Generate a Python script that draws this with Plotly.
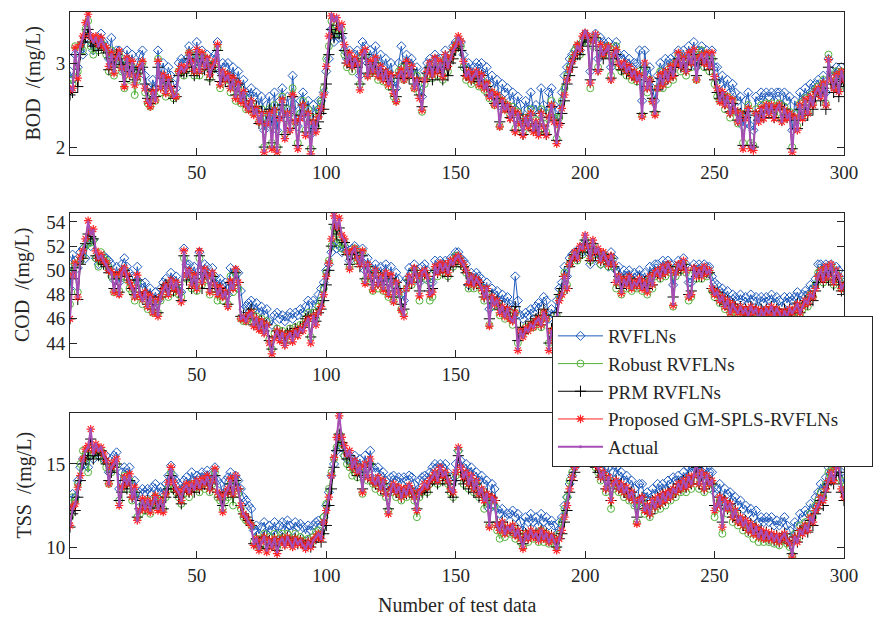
import plotly.graph_objects as go

# ---------------- DATA ----------------
bod_actual = [2.70,2.68,3.15,2.85,3.20,3.30,3.45,3.55,3.30,3.25,
3.30,3.20,3.28,3.22,3.15,2.95,3.10,2.90,3.05,3.12,
2.95,2.75,3.05,2.85,3.00,2.75,2.85,2.95,3.00,2.70,
2.55,2.50,2.65,2.55,3.00,2.70,2.85,2.65,2.80,2.70,
2.60,2.62,2.88,2.95,2.90,2.95,3.10,3.00,2.90,3.15,
2.90,3.10,2.95,3.05,2.85,2.95,3.00,3.20,2.75,2.90,
2.80,2.85,2.70,2.80,2.60,2.75,2.55,2.65,2.50,2.45,
2.55,2.40,2.45,2.30,2.40,1.95,2.30,2.40,2.00,2.45,
1.95,2.35,2.55,2.10,2.40,2.20,2.60,2.30,2.00,2.35,
2.50,2.15,2.40,1.92,2.30,2.20,2.35,2.45,2.60,2.95,
3.30,3.58,3.50,3.55,3.40,3.45,3.20,3.00,3.10,2.95,
3.05,3.00,2.70,3.10,3.15,2.85,3.00,2.90,3.05,2.85,
2.95,2.80,2.90,2.75,2.85,2.65,2.55,2.85,2.90,2.80,
3.00,2.85,2.95,2.70,2.80,2.60,2.45,2.80,2.90,3.00,
2.85,3.05,2.90,3.00,2.85,3.10,2.95,3.05,3.15,3.20,
3.30,3.25,3.00,2.85,2.90,2.80,2.85,2.90,2.75,2.85,
2.70,2.75,2.60,2.65,2.50,2.60,2.25,2.55,2.45,2.50,
2.35,2.45,2.20,2.40,2.30,2.15,2.35,2.25,2.40,2.20,
2.30,2.15,2.40,2.25,2.15,2.35,2.50,2.30,2.05,2.25,
2.45,2.60,2.80,2.90,3.00,3.10,3.20,3.15,3.30,3.38,
3.30,2.75,3.25,3.35,2.90,3.20,3.10,3.15,3.20,2.80,
3.10,3.15,3.00,2.95,3.00,2.90,2.95,2.85,2.90,2.80,
2.85,2.36,3.00,2.70,2.80,2.55,2.40,2.70,2.85,2.75,
2.90,2.80,2.95,2.85,3.00,3.10,2.95,3.05,2.90,3.10,
3.00,3.15,2.80,3.05,3.10,3.00,3.10,2.95,3.10,2.85,
2.70,2.55,2.65,2.50,2.60,2.40,2.55,2.45,2.30,2.40,
2.00,2.35,2.45,2.00,1.98,2.40,2.30,2.45,2.35,2.50,
2.40,2.50,2.35,2.45,2.50,2.30,2.45,2.35,2.40,1.95,
2.35,2.20,2.50,2.35,2.55,2.40,2.60,2.50,2.65,2.70,
2.60,2.75,2.50,3.05,2.80,2.70,2.85,2.65,2.90,2.80]

bod_rvfl = [2.90,2.80,3.10,2.95,3.15,3.10,3.30,3.35,3.25,3.15,
3.25,3.30,3.35,3.25,3.20,3.05,3.30,3.00,3.15,3.15,
3.05,2.90,3.15,3.00,3.10,2.90,3.00,3.10,3.15,2.85,
2.70,2.65,2.80,2.70,3.15,2.85,3.00,2.80,2.95,2.85,
2.75,2.70,3.00,3.05,3.00,3.05,3.20,3.10,3.00,3.25,
3.00,3.15,3.05,3.10,2.95,3.05,3.10,3.25,2.90,3.00,
2.95,3.00,2.85,2.95,2.75,2.90,2.70,2.80,2.65,2.60,
2.70,2.60,2.65,2.50,2.60,2.20,2.50,2.60,2.25,2.65,
2.20,2.55,2.70,2.35,2.60,2.40,2.85,2.50,2.25,2.55,
2.65,2.35,2.55,2.15,2.50,2.40,2.55,2.55,2.65,2.90,
3.05,3.40,3.25,3.35,3.30,3.30,3.15,3.05,3.15,3.00,
3.10,3.15,2.85,3.25,3.20,3.00,3.15,3.05,3.20,3.00,
3.10,2.95,3.05,2.90,3.00,2.80,2.70,3.00,3.20,2.95,
3.10,3.00,3.05,2.85,2.95,2.75,2.60,2.90,3.00,3.05,
3.00,3.10,3.05,3.05,2.95,3.15,3.05,3.10,3.20,3.25,
3.25,3.25,3.10,2.95,3.00,2.90,2.95,3.00,2.90,3.00,
2.85,2.95,2.75,2.85,2.70,2.80,2.50,2.75,2.65,2.70,
2.55,2.65,2.45,2.60,2.50,2.35,2.55,2.45,2.65,2.45,
2.50,2.40,2.70,2.50,2.40,2.65,2.70,2.50,2.30,2.45,
2.65,2.85,2.95,3.05,3.10,3.15,3.20,3.15,3.25,3.35,
3.30,2.90,3.30,3.35,3.05,3.30,3.25,3.20,3.25,2.95,
3.20,3.25,3.10,3.05,3.10,3.00,3.05,2.95,3.00,3.00,
3.15,2.55,3.15,2.85,2.95,2.70,2.55,2.85,3.00,2.90,
3.05,2.95,3.05,3.00,3.10,3.15,3.05,3.15,3.05,3.20,
3.10,3.25,2.95,3.15,3.20,3.10,3.15,3.05,3.15,2.95,
2.95,2.75,2.85,2.70,2.80,2.65,2.75,2.65,2.55,2.60,
2.25,2.55,2.65,2.25,2.20,2.60,2.55,2.65,2.55,2.65,
2.60,2.65,2.55,2.65,2.65,2.50,2.65,2.55,2.60,2.20,
2.55,2.40,2.65,2.55,2.70,2.60,2.75,2.65,2.75,2.80,
2.70,2.85,2.65,3.05,2.90,2.85,2.95,2.80,2.95,2.85]

bod_robust = [2.80,2.75,3.20,2.90,3.20,3.15,3.40,3.50,3.20,3.10,
3.25,3.15,3.25,3.20,3.10,2.90,3.15,2.85,3.00,3.10,
2.90,2.70,3.00,2.80,2.95,2.62,2.80,2.90,3.00,2.65,
2.52,2.48,2.60,2.55,3.05,2.65,2.80,2.60,2.80,2.65,
2.58,2.60,2.90,2.90,2.85,2.92,3.12,3.00,2.85,3.10,
2.85,3.10,2.95,3.00,2.82,2.92,3.00,3.18,2.70,2.85,
2.80,2.80,2.65,2.75,2.55,2.70,2.52,2.60,2.45,2.45,
2.50,2.40,2.45,2.30,2.45,2.00,2.35,2.45,2.05,2.50,
2.00,2.40,2.60,2.15,2.45,2.25,2.70,2.35,2.05,2.40,
2.55,2.20,2.45,1.98,2.35,2.25,2.45,2.55,2.70,3.05,
3.20,3.50,3.35,3.45,3.35,3.40,3.10,2.95,3.05,2.90,
3.00,3.00,2.75,3.10,3.10,2.85,2.95,2.90,3.00,2.80,
2.90,2.78,2.85,2.72,2.80,2.60,2.55,2.90,2.95,2.80,
2.95,2.85,2.90,2.70,2.85,2.65,2.42,2.75,2.85,2.95,
2.82,3.00,2.85,2.95,2.80,3.05,2.90,3.05,3.15,3.20,
3.25,3.20,2.95,2.80,2.85,2.75,2.80,2.85,2.72,2.80,
2.68,2.75,2.58,2.65,2.50,2.60,2.25,2.55,2.45,2.50,
2.38,2.48,2.22,2.42,2.30,2.18,2.35,2.28,2.45,2.22,
2.32,2.18,2.45,2.28,2.18,2.40,2.55,2.35,2.10,2.35,
2.55,2.70,2.85,2.95,3.05,3.15,3.20,3.10,3.25,3.30,
3.25,2.70,3.20,3.30,2.95,3.15,3.10,3.10,3.20,2.85,
3.05,3.20,2.95,2.90,2.95,2.85,2.90,2.80,2.85,2.78,
2.90,2.38,2.95,2.65,2.80,2.55,2.40,2.70,2.90,2.70,
2.85,2.75,2.95,2.80,3.00,3.10,2.90,3.00,2.85,3.05,
2.95,3.10,2.80,3.10,3.15,2.95,3.10,2.90,3.05,2.75,
2.60,2.55,2.60,2.45,2.60,2.35,2.55,2.42,2.28,2.40,
2.05,2.40,2.50,2.05,2.02,2.45,2.35,2.50,2.40,2.52,
2.45,2.52,2.40,2.48,2.52,2.35,2.48,2.40,2.42,2.00,
2.40,2.25,2.52,2.38,2.58,2.42,2.62,2.52,2.68,2.72,
2.65,2.80,2.52,3.10,2.85,2.75,2.90,2.70,2.90,2.85]

bod_prm = [2.62,2.65,3.10,2.72,3.10,3.25,3.30,3.40,3.25,3.20,
3.25,3.15,3.22,3.18,3.12,2.92,3.05,2.95,3.10,3.05,
2.98,2.78,3.00,2.90,2.95,2.80,2.88,2.92,2.95,2.75,
2.58,2.52,2.68,2.60,2.95,2.72,2.82,2.70,2.78,2.72,
2.58,2.60,2.85,2.90,2.88,2.90,3.05,2.95,2.85,3.10,
2.88,3.05,2.92,3.00,2.80,2.90,2.95,3.15,2.78,2.85,
2.78,2.85,2.72,2.82,2.62,2.75,2.58,2.66,2.52,2.48,
2.55,2.42,2.48,2.28,2.42,2.00,2.30,2.45,2.05,2.45,
2.00,2.35,2.50,2.15,2.40,2.22,2.60,2.32,2.02,2.38,
2.50,2.18,2.40,1.98,2.32,2.22,2.30,2.40,2.45,2.75,
3.10,3.40,3.30,3.45,3.35,3.35,3.15,3.00,3.05,2.95,
3.02,2.95,2.75,3.05,3.10,2.88,2.98,2.90,3.00,2.88,
2.92,2.82,2.88,2.78,2.85,2.68,2.60,2.82,2.88,2.82,
3.00,2.82,2.92,2.75,2.82,2.62,2.48,2.78,2.88,2.95,
2.80,2.95,2.88,2.95,2.80,3.00,2.85,3.00,3.05,3.15,
3.20,3.15,2.95,2.85,2.88,2.80,2.82,2.88,2.78,2.85,
2.72,2.72,2.62,2.62,2.52,2.58,2.30,2.52,2.48,2.48,
2.35,2.42,2.20,2.38,2.30,2.15,2.32,2.25,2.38,2.20,
2.28,2.18,2.40,2.25,2.15,2.35,2.48,2.32,2.08,2.28,
2.40,2.55,2.75,2.85,2.95,3.05,3.10,3.10,3.20,3.30,
3.25,2.80,3.20,3.30,2.92,3.15,3.05,3.12,3.15,2.82,
3.05,3.10,2.98,2.92,2.98,2.88,2.92,2.85,2.88,2.80,
2.85,2.40,2.95,2.72,2.78,2.58,2.42,2.68,2.82,2.75,
2.88,2.82,2.92,2.85,2.95,3.05,2.95,3.00,2.92,3.05,
2.98,3.10,2.85,3.00,3.05,2.98,3.05,2.92,3.05,2.80,
2.65,2.58,2.62,2.52,2.58,2.42,2.52,2.45,2.32,2.40,
2.02,2.35,2.42,2.02,2.00,2.38,2.32,2.42,2.35,2.48,
2.40,2.48,2.35,2.45,2.48,2.32,2.45,2.35,2.38,1.98,
2.32,2.22,2.45,2.32,2.50,2.38,2.55,2.45,2.60,2.65,
2.55,2.70,2.45,2.95,2.75,2.65,2.78,2.60,2.80,2.72]

bod_proposed = [2.68,2.70,3.18,2.82,3.22,3.32,3.48,3.58,3.32,3.28,
3.32,3.22,3.30,3.20,3.18,2.96,3.12,2.88,3.06,3.14,
2.94,2.72,3.06,2.86,3.02,2.74,2.84,2.96,3.02,2.70,
2.54,2.48,2.66,2.56,3.02,2.70,2.86,2.64,2.82,2.70,
2.62,2.60,2.90,2.96,2.92,2.96,3.12,3.02,2.90,3.16,
2.90,3.12,2.96,3.06,2.86,2.96,3.02,3.22,2.74,2.90,
2.80,2.86,2.70,2.82,2.58,2.76,2.54,2.66,2.50,2.44,
2.55,2.38,2.46,2.30,2.40,1.94,2.28,2.40,1.98,2.44,
1.94,2.34,2.56,2.10,2.40,2.20,2.62,2.30,1.98,2.34,
2.50,2.14,2.40,1.92,2.30,2.18,2.36,2.46,2.62,2.96,
3.32,3.56,3.52,3.54,3.42,3.46,3.22,3.00,3.12,2.96,
3.06,3.00,2.68,3.12,3.16,2.84,3.02,2.90,3.06,2.84,
2.96,2.80,2.90,2.74,2.86,2.64,2.54,2.86,2.92,2.80,
3.02,2.86,2.96,2.70,2.80,2.58,2.44,2.80,2.90,3.00,
2.86,3.06,2.90,3.02,2.84,3.10,2.96,3.06,3.16,3.22,
3.32,3.26,3.02,2.84,2.90,2.80,2.86,2.90,2.74,2.86,
2.70,2.76,2.60,2.66,2.50,2.62,2.24,2.56,2.44,2.50,
2.34,2.44,2.18,2.40,2.28,2.14,2.34,2.24,2.40,2.18,
2.30,2.14,2.40,2.24,2.14,2.36,2.50,2.30,2.04,2.26,
2.46,2.62,2.80,2.92,3.02,3.10,3.22,3.16,3.32,3.36,
3.32,2.76,3.26,3.34,2.90,3.22,3.10,3.16,3.20,2.80,
3.10,3.16,3.00,2.96,3.00,2.90,2.96,2.84,2.90,2.80,
2.86,2.36,3.00,2.70,2.80,2.54,2.38,2.70,2.86,2.74,
2.90,2.80,2.96,2.84,3.00,3.12,2.96,3.06,2.90,3.12,
3.00,3.16,2.80,3.06,3.10,3.00,3.12,2.96,3.12,2.84,
2.70,2.54,2.66,2.50,2.60,2.40,2.56,2.44,2.30,2.40,
1.98,2.34,2.46,1.98,1.96,2.40,2.30,2.46,2.34,2.50,
2.40,2.50,2.34,2.46,2.50,2.30,2.44,2.34,2.40,1.94,
2.36,2.20,2.50,2.34,2.56,2.40,2.60,2.50,2.66,2.70,
2.60,2.76,2.50,3.04,2.80,2.70,2.86,2.66,2.90,2.80]

cod_actual = [46.0,49.5,50.5,47.8,51.0,51.5,52.5,54.0,53.0,53.3,
51.5,51.0,51.2,50.8,50.5,50.0,49.8,48.3,49.5,48.0,
49.8,50.2,49.5,49.0,48.5,47.8,49.5,48.0,47.5,48.2,
47.0,47.8,46.5,47.5,46.3,47.8,48.3,48.8,48.0,49.2,
48.5,49.0,48.2,47.5,51.5,49.5,50.0,48.8,49.5,48.5,
51.5,49.0,50.0,49.5,48.3,49.8,48.8,48.0,48.5,47.8,
48.2,47.0,49.0,48.5,50.0,49.0,46.0,46.2,45.8,46.3,
46.5,45.5,46.0,45.2,45.8,44.8,45.5,44.0,43.2,44.5,
45.0,44.3,44.8,43.8,44.5,44.8,44.2,45.0,44.6,45.2,
45.0,45.6,46.0,44.1,46.2,45.5,46.5,47.0,48.0,49.5,
50.5,52.5,54.7,53.5,54.2,52.8,52.5,51.5,50.2,51.5,
51.8,51.0,50.5,51.5,49.0,50.5,49.5,48.5,50.0,48.8,
49.5,48.5,49.8,48.0,49.5,47.5,49.0,48.2,46.8,46.3,
48.5,49.5,49.0,50.2,49.5,48.0,49.8,50.0,49.5,48.0,
48.2,50.3,49.8,50.5,50.0,50.5,49.8,50.8,50.5,51.0,
51.2,50.8,50.5,50.0,49.0,49.5,48.8,49.3,49.0,48.5,
47.8,48.5,45.5,47.8,47.2,47.5,46.5,47.0,46.2,46.8,
46.0,45.8,46.5,43.5,45.0,44.5,45.2,45.0,45.5,45.3,
45.8,46.0,45.5,46.5,46.0,43.5,45.0,44.2,46.0,47.5,
48.0,49.5,48.5,50.5,51.0,51.5,51.0,52.0,51.8,53.0,
52.0,51.0,52.5,51.5,51.8,50.8,51.5,51.0,50.5,51.2,
50.5,49.0,49.5,48.2,49.2,48.8,49.5,48.5,49.0,48.8,
49.3,48.5,49.0,48.3,49.5,48.8,49.8,50.0,49.5,50.3,
49.8,50.5,50.0,47.2,49.8,50.5,50.2,50.8,50.0,47.8,
48.0,50.2,49.5,50.0,49.5,50.3,49.8,50.0,48.5,48.0,
48.2,47.5,47.8,47.0,47.5,46.5,47.2,46.8,46.5,47.0,
46.5,46.8,46.2,47.0,46.5,46.8,46.0,46.7,46.3,46.8,
46.5,47.0,46.3,46.8,46.5,46.0,46.6,46.2,46.8,46.5,
46.8,47.2,46.5,47.0,47.5,47.3,48.0,47.8,48.5,49.5,
50.0,49.2,50.3,49.5,50.5,49.0,50.0,49.5,48.5,48.8]

cod_rvfl = [48.5,51.3,50.8,50.2,51.5,51.8,51.0,52.5,52.0,52.5,
51.0,50.5,51.0,51.2,51.0,50.8,50.5,49.2,50.3,49.0,
50.5,51.0,50.3,49.8,49.5,48.8,50.3,49.0,48.5,49.0,
48.0,48.5,47.5,48.2,47.5,48.5,49.0,49.3,48.8,49.8,
49.2,49.5,48.8,48.2,51.8,50.5,50.5,49.8,50.3,49.5,
51.5,50.0,50.5,50.3,49.3,50.2,49.5,48.8,49.3,48.8,
49.0,48.0,50.2,49.5,50.0,49.8,48.3,46.8,47.0,47.3,
47.5,46.8,47.3,46.5,47.0,46.3,46.8,45.8,45.5,46.3,
46.5,46.0,46.3,45.8,46.2,46.5,46.0,46.5,46.3,46.8,
46.5,47.0,47.5,46.3,47.5,47.2,48.0,48.5,49.0,50.0,
50.5,51.5,52.5,51.8,52.0,51.5,52.0,51.5,50.8,51.8,
52.0,51.5,51.2,51.8,50.0,51.0,50.3,49.5,50.5,49.8,
50.3,49.5,50.5,49.0,50.3,48.8,49.8,49.3,48.0,47.5,
49.3,50.2,49.8,50.5,50.0,49.0,50.3,50.5,50.0,49.0,
49.0,50.8,50.3,50.8,50.5,50.8,50.3,51.0,51.0,51.5,
51.5,51.0,50.8,50.5,48.8,49.8,49.3,49.8,49.5,49.3,
48.5,49.0,46.8,48.5,48.0,48.3,47.5,48.0,47.3,47.8,
47.2,47.0,49.5,47.5,46.3,46.0,46.5,46.3,46.8,46.5,
47.0,47.3,47.0,47.8,47.5,46.0,46.8,46.3,47.5,48.5,
49.0,50.3,49.5,51.0,51.3,51.5,51.0,51.8,51.5,52.3,
51.5,50.5,51.8,51.0,51.3,50.5,51.0,50.8,50.3,51.5,
51.0,50.0,50.3,49.3,50.0,49.5,50.0,49.3,49.8,49.5,
50.0,49.3,49.8,49.0,50.3,49.8,50.5,50.5,50.0,50.8,
50.3,50.8,50.5,48.8,50.3,50.8,50.5,51.0,50.5,49.0,
49.0,50.5,50.0,50.5,50.0,50.5,50.3,50.3,49.5,49.0,
48.8,48.3,48.5,47.8,48.3,47.5,48.0,47.8,47.5,48.0,
47.5,47.8,47.3,48.0,47.5,47.8,47.0,47.8,47.3,47.8,
47.5,48.0,47.3,47.8,47.5,47.0,47.8,47.3,47.8,47.5,
47.8,48.2,47.5,48.0,48.3,48.0,48.8,48.5,49.3,50.5,
50.5,50.0,50.5,50.3,50.5,49.8,50.3,50.0,49.3,49.0]

cod_robust = [47.2,50.3,50.5,48.2,50.8,51.2,52.0,52.2,52.3,52.5,
51.0,50.3,51.5,51.0,50.8,50.2,49.5,48.2,49.5,48.3,
49.5,50.0,49.2,48.5,48.2,47.5,49.0,47.8,47.2,48.0,
46.8,47.5,46.5,47.3,46.5,47.5,48.0,48.5,47.8,49.0,
48.2,48.5,48.0,47.8,51.0,49.3,49.5,48.5,49.2,48.3,
51.0,48.8,49.5,49.2,48.0,49.5,48.5,47.5,48.2,47.5,
48.0,47.2,49.5,48.2,49.8,48.5,46.0,45.8,45.8,46.0,
46.5,45.8,46.2,45.5,46.0,45.0,45.8,44.3,43.5,44.8,
45.2,44.8,45.0,44.3,44.8,45.2,44.8,45.3,45.0,45.5,
45.5,46.0,46.5,44.5,46.5,46.0,47.0,47.5,48.5,49.8,
50.8,52.0,53.5,52.3,52.5,51.8,52.2,51.5,50.3,51.5,
51.8,50.8,50.8,51.5,49.2,50.3,49.3,48.3,49.8,48.5,
49.2,48.3,49.5,47.8,49.2,47.5,48.8,48.0,46.8,46.5,
48.5,49.3,48.8,50.0,49.3,47.5,49.5,49.8,49.2,47.5,
47.8,50.0,49.5,50.3,49.8,50.2,49.5,50.5,50.3,51.2,
51.0,50.5,50.3,49.8,48.5,49.2,48.5,49.0,48.8,48.3,
47.5,48.0,45.5,47.5,47.0,47.2,46.3,46.8,46.0,46.5,
46.0,45.5,46.5,44.0,45.0,44.8,45.3,45.2,45.5,45.3,
45.8,46.0,45.3,46.5,46.0,44.0,45.0,44.5,46.3,47.8,
48.3,49.8,48.8,50.5,51.0,51.3,50.8,51.5,51.3,52.5,
51.8,50.8,52.0,51.3,51.5,50.5,51.3,50.8,50.3,51.0,
50.3,48.5,49.3,48.0,49.0,48.5,49.3,48.3,48.8,48.5,
49.0,48.3,48.8,48.0,49.3,48.5,49.5,49.8,49.3,50.0,
49.5,50.3,49.8,47.0,49.5,50.3,50.0,50.5,49.8,47.5,
47.8,50.0,49.3,49.8,49.3,50.0,49.5,49.8,48.3,47.8,
48.0,47.3,47.5,46.8,47.3,46.5,47.0,46.5,46.3,46.8,
46.3,46.5,46.0,46.8,46.3,46.5,45.8,46.5,46.0,46.5,
46.3,46.8,46.0,46.5,46.3,45.8,46.5,46.0,46.5,46.3,
46.5,47.0,46.3,46.8,47.3,47.0,48.0,47.8,48.8,49.8,
50.0,49.0,50.0,49.3,50.3,48.8,49.8,49.3,48.5,48.8]

cod_prm = [46.0,49.3,50.2,47.6,50.5,51.0,52.2,53.0,52.8,52.6,
51.2,51.0,50.8,50.5,50.3,49.8,49.8,48.5,49.3,48.2,
49.8,50.0,49.5,49.2,48.5,48.0,49.2,48.2,47.8,48.2,
47.2,47.8,46.8,47.5,46.5,47.8,48.5,48.8,48.3,49.0,
48.3,48.8,48.2,47.5,51.2,49.2,49.8,48.5,49.3,48.5,
51.2,48.5,49.8,49.5,48.5,49.5,48.8,48.2,48.5,48.0,
48.2,47.2,49.0,48.8,49.8,49.0,46.2,46.3,46.0,46.5,
46.8,45.5,46.0,45.3,45.8,45.0,45.5,44.2,43.5,44.5,
45.0,44.5,44.8,44.0,44.8,45.0,44.5,45.2,44.8,45.3,
45.3,46.0,46.2,44.5,46.3,45.8,46.5,46.8,47.5,48.8,
50.0,52.0,53.8,53.0,53.5,52.5,52.3,51.3,50.5,51.3,
51.5,51.0,50.3,51.2,49.3,50.3,49.5,48.8,49.8,49.0,
49.5,48.8,49.5,48.3,49.3,47.8,49.0,48.5,47.2,46.8,
48.5,49.2,49.0,50.0,49.5,48.3,49.5,49.8,49.5,48.3,
48.5,50.0,49.8,50.2,49.8,50.3,49.5,50.5,50.3,50.8,
51.0,50.5,50.3,49.8,48.8,49.3,48.8,49.2,49.0,48.5,
47.8,48.3,46.0,47.8,47.3,47.5,46.8,47.0,46.5,46.8,
46.2,46.0,47.0,44.2,45.3,44.8,45.3,45.2,45.8,45.5,
46.0,46.3,45.5,46.8,46.3,44.0,45.2,44.5,46.5,48.0,
48.5,49.5,48.5,50.3,50.8,51.3,51.0,51.8,51.5,52.5,
51.8,50.8,52.2,51.3,51.5,50.8,51.3,51.0,50.5,51.0,
50.3,49.0,49.5,48.5,49.2,48.8,49.3,48.8,49.0,48.8,
49.3,48.8,49.0,48.5,49.5,48.8,49.8,49.8,49.5,50.0,
49.8,50.3,50.0,47.8,49.8,50.3,50.0,50.5,50.0,48.0,
48.3,50.0,49.5,49.8,49.5,50.0,49.8,49.8,48.5,48.2,
48.2,47.5,47.8,47.2,47.5,46.8,47.2,47.0,46.8,47.0,
46.5,46.8,46.3,47.0,46.5,46.8,46.2,46.8,46.5,46.8,
46.5,47.0,46.5,46.8,46.5,46.2,46.8,46.3,46.8,46.5,
46.8,47.3,46.5,47.0,47.5,47.2,47.8,47.5,48.3,49.0,
49.5,49.0,49.8,49.2,50.0,48.8,49.5,49.0,48.3,48.5]

cod_proposed = [46.0,49.6,50.6,47.8,51.1,51.6,52.6,54.1,53.2,53.4,
51.6,51.0,51.3,50.8,50.6,50.0,49.9,48.2,49.6,48.0,
49.9,50.2,49.6,49.0,48.6,47.8,49.6,48.0,47.6,48.2,
47.0,47.9,46.5,47.5,46.2,47.8,48.4,48.8,48.0,49.2,
48.5,49.0,48.2,47.4,51.6,49.6,50.0,48.8,49.6,48.5,
51.6,49.0,50.1,49.5,48.2,49.8,48.8,48.0,48.6,47.8,
48.2,47.0,49.1,48.5,50.1,49.0,46.0,46.1,45.8,46.3,
46.5,45.4,46.0,45.1,45.8,44.8,45.5,44.0,43.1,44.4,
45.0,44.2,44.8,43.8,44.5,44.8,44.1,45.0,44.6,45.2,
45.0,45.6,46.0,44.0,46.2,45.5,46.5,47.0,48.0,49.5,
50.6,52.6,54.5,53.6,54.3,52.9,52.6,51.5,50.1,51.6,
51.8,51.0,50.5,51.6,48.9,50.5,49.5,48.4,50.0,48.8,
49.5,48.4,49.8,48.0,49.6,47.4,49.0,48.2,46.7,46.2,
48.5,49.5,49.0,50.2,49.5,47.9,49.8,50.0,49.5,48.0,
48.2,50.3,49.8,50.6,50.0,50.5,49.8,50.8,50.6,51.0,
51.2,50.8,50.5,50.0,48.9,49.5,48.8,49.3,49.0,48.5,
47.8,48.5,45.4,47.8,47.2,47.5,46.5,47.0,46.2,46.8,
46.0,45.8,46.5,43.4,45.0,44.5,45.2,45.0,45.5,45.3,
45.8,46.0,45.5,46.5,46.0,43.4,45.0,44.2,46.0,47.5,
48.0,49.5,48.5,50.5,51.0,51.5,51.0,52.0,51.8,52.9,
52.0,51.0,52.5,51.5,51.8,50.8,51.5,51.0,50.5,51.2,
50.5,49.0,49.5,48.1,49.2,48.8,49.5,48.5,49.0,48.8,
49.3,48.5,49.0,48.2,49.5,48.8,49.8,50.0,49.5,50.3,
49.8,50.5,50.0,47.1,49.8,50.5,50.2,50.8,50.0,47.8,
48.0,50.2,49.5,50.0,49.5,50.3,49.8,50.0,48.5,48.0,
48.2,47.5,47.8,47.0,47.5,46.5,47.2,46.8,46.5,47.0,
46.5,46.8,46.2,47.0,46.5,46.8,46.0,46.7,46.3,46.8,
46.5,47.0,46.3,46.8,46.5,46.0,46.6,46.2,46.8,46.5,
46.8,47.2,46.5,47.0,47.5,47.3,48.0,47.8,48.5,49.5,
50.0,49.2,50.3,49.5,50.5,49.0,50.0,49.5,48.5,48.8]

tss_actual = [11.3,12.3,12.6,13.5,14.2,15.2,15.8,16.0,17.1,15.6,
16.2,15.8,16.0,15.5,15.2,13.8,14.8,15.0,15.3,12.5,
13.5,14.2,13.8,14.3,13.0,13.5,11.6,12.2,12.8,12.3,
12.8,12.2,12.7,13.0,12.3,12.8,12.2,13.2,13.8,14.7,
13.8,13.5,13.3,12.8,13.5,13.7,13.3,13.8,13.5,14.0,
13.6,14.0,13.8,14.2,13.5,14.0,14.6,13.3,13.0,12.2,
13.2,13.5,14.0,13.2,14.3,13.5,12.5,12.0,11.8,11.5,
11.3,10.2,10.5,9.9,10.3,10.6,9.8,10.4,10.0,10.5,
9.7,10.3,10.5,10.1,10.6,10.3,10.0,10.5,10.2,10.4,
10.1,9.9,10.3,10.0,10.4,10.6,10.8,10.5,11.5,12.2,
13.0,14.2,15.3,16.5,18.0,16.5,16.0,15.5,15.8,14.8,
15.2,14.5,14.8,13.4,15.0,14.2,15.3,14.0,13.8,14.2,
13.5,14.0,13.2,12.1,13.5,13.8,13.3,13.6,13.0,13.5,
13.2,13.7,13.4,13.0,12.2,13.3,13.5,13.8,13.6,14.0,
14.2,14.5,14.0,14.8,14.3,14.5,14.0,13.5,13.3,14.5,
16.0,14.8,14.2,14.5,13.8,14.3,13.5,14.0,13.2,13.5,
12.8,13.2,11.3,13.0,12.8,11.3,11.0,11.5,10.8,11.2,
11.0,11.3,10.7,11.0,10.5,10.0,10.8,10.5,11.0,10.6,
10.8,10.4,11.0,10.5,10.8,10.3,10.7,10.4,9.9,10.5,
11.0,11.8,12.5,13.5,14.2,14.8,15.5,16.0,15.5,16.2,
15.8,16.5,15.5,15.0,14.8,14.2,14.5,13.5,14.2,12.8,
13.8,14.0,13.5,13.8,13.3,13.6,13.0,13.3,12.8,11.5,
12.8,13.0,12.2,12.5,12.0,12.8,12.4,13.0,12.6,13.2,
12.8,13.3,13.0,13.5,13.3,13.8,13.5,14.0,13.6,14.2,
13.8,14.3,15.2,13.8,14.5,13.5,14.3,13.8,14.0,12.2,
12.5,13.0,11.2,12.8,12.3,12.6,11.8,12.2,11.5,11.8,
11.3,11.6,11.0,11.4,10.8,11.2,10.6,11.0,10.5,10.9,
10.5,10.8,10.4,10.7,10.3,10.6,10.8,10.4,10.2,9.5,
10.6,10.3,11.0,10.8,11.3,11.0,11.8,11.5,12.2,12.5,
13.0,12.8,13.5,14.0,14.5,14.0,14.8,15.0,13.5,13.0]

tss_rvfl = [12.2,13.2,13.0,14.0,14.8,15.3,15.0,14.8,15.5,15.3,
16.0,15.8,15.5,15.3,15.5,14.5,15.3,15.5,15.7,13.5,
14.5,14.8,14.3,14.8,13.8,14.0,12.8,13.3,13.5,13.3,
13.5,13.3,13.6,13.8,13.3,13.6,13.2,13.8,14.3,14.9,
14.3,14.0,13.8,13.5,14.0,14.2,13.8,14.5,14.0,14.3,
14.2,14.5,14.2,14.6,14.0,14.5,14.8,14.0,13.8,13.2,
14.0,14.2,14.5,13.8,14.3,14.0,13.5,13.0,12.8,12.5,
12.3,11.0,11.3,10.8,11.2,11.5,10.8,11.3,11.0,11.5,
10.8,11.3,11.5,11.0,11.6,11.3,11.0,11.5,11.2,11.4,
11.2,10.8,11.3,11.0,11.3,11.5,11.6,11.3,11.8,12.5,
13.3,14.3,15.0,15.8,16.5,16.0,15.5,15.3,15.5,15.0,
15.5,15.0,15.3,14.3,15.5,14.8,15.8,14.8,14.5,14.8,
14.3,14.5,14.0,13.3,14.2,14.3,14.0,14.2,13.8,14.2,
14.0,14.3,14.2,13.8,13.3,14.0,14.2,14.3,14.2,14.5,
14.8,15.0,14.8,15.0,14.8,15.0,14.5,14.2,14.0,15.0,
15.8,15.2,14.8,15.0,14.5,14.8,14.3,14.5,14.0,14.3,
13.8,14.0,12.3,13.8,13.5,12.3,12.0,12.3,11.8,12.0,
12.0,12.2,11.8,12.0,11.5,11.0,11.8,11.5,12.0,11.5,
11.8,11.3,12.0,11.5,11.8,11.3,11.6,11.3,10.8,11.5,
11.8,12.5,13.0,13.8,14.3,14.8,15.3,15.5,15.3,15.8,
15.5,16.0,15.3,15.2,15.0,14.8,15.0,14.3,14.8,13.8,
14.5,14.8,14.3,14.5,14.0,14.3,13.8,14.0,13.5,12.5,
13.8,13.8,13.0,13.3,12.8,13.5,13.2,13.8,13.3,13.8,
13.5,14.0,13.8,14.2,14.0,14.3,14.0,14.5,14.2,14.8,
14.5,14.8,15.3,14.5,15.0,14.3,14.8,14.5,14.5,13.3,
13.5,13.8,12.5,13.5,13.2,13.3,12.8,13.0,12.5,12.8,
12.3,12.5,12.0,12.3,11.8,12.2,11.5,11.8,11.5,11.8,
11.5,11.8,11.3,11.6,11.3,11.5,11.8,11.3,11.0,10.5,
11.5,11.3,12.0,11.8,12.2,12.0,12.6,12.3,13.0,13.3,
13.8,13.5,14.2,14.8,15.3,15.0,15.5,15.8,14.5,13.8]

tss_robust = [11.8,13.0,12.8,13.8,15.0,15.8,15.5,14.5,15.8,15.6,
15.8,15.5,15.8,15.2,14.8,13.8,14.5,14.8,15.0,12.8,
13.5,14.3,13.5,14.0,12.8,13.2,11.8,12.0,12.5,12.2,
12.8,12.0,12.5,13.0,12.5,12.8,12.3,13.0,13.5,14.5,
13.5,13.3,13.0,12.6,13.2,13.5,13.0,13.8,13.5,13.8,
13.3,13.8,13.5,14.0,13.3,13.8,14.5,13.0,12.8,12.3,
12.8,13.0,13.8,12.5,14.0,13.2,12.3,11.8,11.6,11.5,
11.3,10.3,10.5,10.0,10.5,10.8,10.0,10.6,10.2,10.8,
10.0,10.5,10.8,10.3,10.8,10.5,10.3,10.8,10.4,10.6,
10.4,10.1,10.5,10.2,10.6,10.9,11.0,10.8,11.8,12.6,
13.5,14.5,15.3,16.0,16.8,16.2,15.5,15.0,14.8,14.3,
14.8,14.2,14.5,13.2,14.8,14.0,15.0,13.8,13.5,14.0,
13.3,13.8,13.0,12.2,13.3,13.5,13.0,13.3,12.8,13.3,
13.0,13.5,13.2,12.8,11.8,13.0,13.3,13.5,13.3,13.8,
14.0,14.3,13.8,14.5,14.0,14.3,13.8,13.3,13.0,14.3,
15.8,14.5,13.8,14.3,13.5,14.0,13.3,13.8,13.0,13.3,
12.3,12.8,11.3,12.8,12.5,11.0,10.5,11.3,10.6,11.0,
10.8,11.2,10.5,10.8,10.3,10.0,10.8,10.3,10.8,10.5,
10.8,10.3,11.0,10.3,10.8,10.2,10.6,10.2,10.0,10.8,
11.5,12.3,13.0,14.0,14.5,15.0,15.5,15.8,15.3,16.0,
15.5,16.2,15.3,14.8,14.5,14.0,14.3,13.3,14.0,12.3,
13.5,13.8,13.3,13.5,13.0,13.3,12.8,13.0,12.5,11.5,
12.5,12.8,12.0,12.3,11.8,12.5,12.2,12.8,12.3,13.0,
12.5,13.0,12.8,13.3,13.0,13.5,13.3,13.8,13.3,14.0,
13.5,14.0,15.0,13.5,14.3,13.3,14.0,13.5,13.8,11.8,
12.3,12.8,10.8,12.5,12.0,12.3,11.5,12.0,11.3,11.5,
11.0,11.3,10.8,11.2,10.5,11.0,10.3,10.8,10.3,10.6,
10.3,10.6,10.2,10.5,10.1,10.4,10.6,10.2,10.0,9.5,
10.8,10.5,11.3,11.0,11.5,11.3,12.0,11.8,12.5,12.8,
13.3,13.0,13.8,14.5,15.0,14.5,15.3,15.5,14.0,13.3]

tss_prm = [11.2,12.0,12.2,13.0,14.0,15.0,15.3,15.5,16.5,15.3,
15.8,15.5,15.8,15.3,15.0,14.0,14.5,14.8,15.0,12.8,
13.3,14.0,13.5,14.0,13.0,13.3,11.8,12.3,12.8,12.3,
12.8,12.3,12.7,12.8,12.4,12.7,12.3,13.0,13.5,14.3,
13.5,13.3,13.0,12.6,13.3,13.5,13.3,13.5,13.3,13.8,
13.5,13.8,13.8,14.0,13.5,13.8,14.3,13.3,13.0,12.5,
13.2,13.3,13.8,13.0,14.0,13.5,12.5,12.0,11.8,11.6,
11.3,10.2,10.5,10.0,10.3,10.6,9.9,10.4,10.1,10.5,
9.8,10.3,10.5,10.2,10.6,10.3,10.1,10.5,10.2,10.4,
10.2,10.0,10.3,10.0,10.3,10.5,10.6,10.3,10.8,11.3,
12.5,13.5,14.8,15.8,16.8,16.3,15.8,15.3,15.5,14.8,
15.0,14.3,14.5,13.5,14.8,14.2,15.0,14.0,13.8,14.0,
13.5,13.8,13.2,12.3,13.5,13.6,13.3,13.5,13.0,13.4,
13.2,13.5,13.3,13.0,12.3,13.2,13.3,13.5,13.3,13.8,
14.0,14.2,13.8,14.5,14.0,14.3,13.8,13.3,13.0,14.0,
15.5,14.5,13.8,14.3,13.5,14.0,13.3,13.8,13.0,13.3,
12.8,13.2,11.5,13.0,12.8,11.5,11.2,11.5,11.0,11.2,
11.0,11.3,10.8,11.0,10.6,10.2,10.8,10.6,11.0,10.7,
10.8,10.5,11.0,10.6,10.8,10.4,10.7,10.5,10.0,10.5,
10.8,11.5,12.2,13.3,14.0,14.5,15.2,15.8,15.3,16.0,
15.5,16.2,15.3,14.8,14.5,14.2,14.3,13.5,14.0,12.8,
13.8,14.0,13.5,13.8,13.3,13.5,13.0,13.3,12.8,11.8,
12.8,13.0,12.3,12.5,12.0,12.8,12.4,13.0,12.6,13.2,
12.8,13.3,13.0,13.5,13.3,13.8,13.5,14.0,13.6,14.2,
13.8,14.2,14.8,13.8,14.3,13.5,14.2,13.8,13.8,12.5,
12.5,13.0,11.5,12.8,12.3,12.6,11.8,12.2,11.6,11.8,
11.3,11.6,11.0,11.4,10.9,11.2,10.7,11.0,10.6,10.9,
10.5,10.8,10.4,10.7,10.3,10.6,10.8,10.4,10.2,9.6,
10.6,10.3,11.0,10.8,11.2,10.9,11.6,11.3,12.0,12.3,
12.8,12.5,13.3,13.8,14.0,13.8,14.3,14.5,13.3,12.8]

tss_proposed = [11.3,12.4,12.6,13.6,14.3,15.3,15.9,16.1,17.1,15.8,
16.2,15.9,16.0,15.6,15.2,13.8,14.8,15.1,15.3,12.5,
13.6,14.2,13.8,14.4,13.0,13.6,11.6,12.2,12.9,12.3,
12.8,12.1,12.7,13.1,12.2,12.8,12.1,13.2,13.9,14.8,
13.9,13.5,13.3,12.8,13.5,13.8,13.3,13.8,13.6,14.0,
13.6,14.1,13.8,14.3,13.5,14.0,14.7,13.3,13.0,12.1,
13.2,13.5,14.1,13.2,14.3,13.5,12.5,12.0,11.8,11.5,
11.3,10.1,10.5,9.8,10.3,10.6,9.7,10.4,10.0,10.5,
9.6,10.3,10.5,10.1,10.6,10.3,10.0,10.5,10.2,10.4,
10.1,9.9,10.3,10.0,10.4,10.6,10.8,10.5,11.5,12.2,
13.0,14.3,15.4,16.6,17.9,16.6,16.1,15.6,15.8,14.8,
15.2,14.5,14.8,13.3,15.0,14.2,15.3,14.0,13.8,14.2,
13.5,14.0,13.2,12.0,13.5,13.8,13.3,13.6,13.0,13.5,
13.2,13.7,13.4,13.0,12.2,13.3,13.5,13.8,13.6,14.0,
14.2,14.5,14.0,14.8,14.3,14.5,14.0,13.5,13.3,14.5,
16.0,14.8,14.2,14.5,13.8,14.3,13.5,14.0,13.2,13.5,
12.8,13.2,11.2,13.0,12.8,11.3,11.0,11.5,10.8,11.2,
11.0,11.3,10.7,11.0,10.5,9.9,10.8,10.5,11.0,10.6,
10.8,10.4,11.0,10.5,10.8,10.3,10.7,10.4,9.8,10.5,
11.0,11.8,12.5,13.5,14.2,14.8,15.5,16.0,15.5,16.2,
15.8,16.5,15.5,15.0,14.8,14.2,14.5,13.5,14.2,12.8,
13.8,14.0,13.5,13.8,13.3,13.6,13.0,13.3,12.8,11.4,
12.8,13.0,12.2,12.5,12.0,12.8,12.4,13.0,12.6,13.2,
12.8,13.3,13.0,13.5,13.3,13.8,13.5,14.0,13.6,14.2,
13.8,14.3,15.2,13.8,14.5,13.5,14.3,13.8,14.0,12.2,
12.5,13.0,11.2,12.8,12.3,12.6,11.8,12.2,11.5,11.8,
11.3,11.6,11.0,11.4,10.8,11.2,10.6,11.0,10.5,10.9,
10.5,10.8,10.4,10.7,10.3,10.6,10.8,10.4,10.2,9.4,
10.6,10.3,11.0,10.8,11.3,11.0,11.8,11.5,12.2,12.5,
13.0,12.8,13.5,14.0,14.5,14.0,14.8,15.0,13.5,13.0]

series_names = ["RVFLNs", "Robust RVFLNs", "PRM RVFLNs",
                "Proposed GM-SPLS-RVFLNs" + "\u00a0" * 6, "Actual"]
panel_titles = ["BOD  /(mg/L)", "COD  /(mg/L)", "TSS  /(mg/L)"]
x_tick_vals = [50, 100, 150, 200, 250, 300]
bod_ticks = [2, 3]
cod_ticks = [44, 46, 48, 50, 52, 54]
tss_ticks = [10, 15]
x_title = "Number of test data"

panels = [
    [bod_rvfl, bod_robust, bod_prm, bod_proposed, bod_actual],
    [cod_rvfl, cod_robust, cod_prm, cod_proposed, cod_actual],
    [tss_rvfl, tss_robust, tss_prm, tss_proposed, tss_actual],
]

# ---------------- STYLE ----------------
FONT = "Liberation Serif"
AX = "#262626"
styles = [
    dict(color="#1f5bbd", symbol="diamond-open", size=7, mlw=1.0, lw=1.0),
    dict(color="#55b33b", symbol="circle-open", size=7, mlw=1.0, lw=1.0),
    dict(color="#000000", symbol="cross-thin-open", size=8, mlw=1.0, lw=1.0),
    dict(color="#ff2222", symbol="asterisk-open", size=7, mlw=1.2, lw=1.0),
    dict(color="#a64fb6", symbol="circle", size=3, mlw=0, lw=2.0),
]

fig = go.Figure()
for p, series in enumerate(panels):
    xa = "x" if p == 0 else f"x{p+1}"
    ya = "y" if p == 0 else f"y{p+1}"
    for s, (vals, name, st) in enumerate(zip(series, series_names, styles)):
        fig.add_trace(go.Scatter(
            x=list(range(1, len(vals) + 1)), y=vals, name=name,
            mode="lines+markers", xaxis=xa, yaxis=ya,
            legendgroup=name, showlegend=(p == 0),
            line=dict(color=st["color"], width=st["lw"]),
            marker=dict(symbol=st["symbol"], size=st["size"], color=st["color"],
                        line=dict(color=st["color"], width=st["mlw"])),
        ))

def xaxis(anchor):
    return dict(domain=[0, 1], anchor=anchor, range=[1, 300], tickvals=x_tick_vals,
                ticks="inside", ticklen=7, tickcolor=AX, showline=True, linecolor=AX,
                linewidth=1, mirror="ticks", showgrid=False, zeroline=False,
                tickfont=dict(family=FONT, size=19, color=AX))

def yaxis(anchor, dom, rng, tv):
    return dict(domain=dom, anchor=anchor, range=rng, tickvals=tv,
                ticks="inside", ticklen=7, tickcolor=AX, showline=True, linecolor=AX,
                linewidth=1, mirror="ticks", showgrid=False, zeroline=False,
                tickfont=dict(family=FONT, size=19, color=AX))

fig.update_layout(
    width=885, height=619,
    margin=dict(l=70, r=41, t=12, b=61),
    paper_bgcolor="white", plot_bgcolor="white",
    font=dict(family=FONT, color=AX),
    xaxis=xaxis("y"), xaxis2=xaxis("y2"), xaxis3=xaxis("y3"),
    yaxis=yaxis("x", [0.738, 1.0], [1.905, 3.607], bod_ticks),
    yaxis2=yaxis("x2", [0.368, 0.632], [42.84, 54.74], cod_ticks),
    yaxis3=yaxis("x3", [0.0, 0.2656], [9.34, 18.07], tss_ticks),
    legend=dict(x=0.6227, y=0.4432, xanchor="left", yanchor="top",
                bgcolor="white", bordercolor=AX, borderwidth=1,
                font=dict(family=FONT, size=19, color=AX),
                traceorder="normal", itemwidth=45),
)

ann = []
title_x = [-0.0465, -0.062, -0.0594]
title_y = [0.869, 0.5, 0.1328]
for t, tx, ty in zip(panel_titles, title_x, title_y):
    ann.append(dict(text=t, xref="paper", yref="paper", x=tx, y=ty, textangle=-90,
                    showarrow=False, xanchor="center", yanchor="middle",
                    font=dict(family=FONT, size=20, color=AX)))
ann.append(dict(text=x_title, xref="paper", yref="paper", x=0.5, y=-0.086,
                showarrow=False, xanchor="center", yanchor="middle",
                font=dict(family=FONT, size=20, color=AX)))
fig.update_layout(annotations=ann)

fig.write_html("out.html", config={"displayModeBar": False},
               post_script="document.body.style.margin='0';document.body.style.overflow='hidden';")
